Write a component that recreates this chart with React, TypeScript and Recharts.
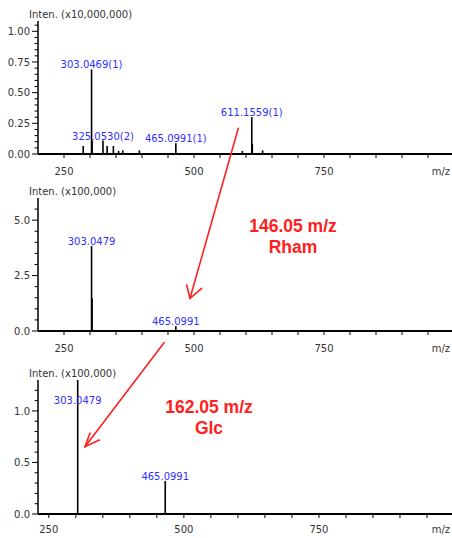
import React from "react"
import { ComposedChart, Bar, XAxis, YAxis, LabelList } from "recharts"

// MS spectrum (x10,000,000)
const ms1Mz = [287.0, 303.0469, 304.05, 325.053, 333.0, 345.0, 355.0, 363.0, 395.0, 465.0991, 593.0, 611.1559, 612.16, 632.0]
const ms1Inten = [0.065, 0.69, 0.11, 0.11, 0.065, 0.065, 0.025, 0.03, 0.03, 0.088, 0.025, 0.3, 0.08, 0.03]
const ms1Labels = ["", "303.0469(1)", "", "325.0530(2)", "", "", "", "", "", "465.0991(1)", "", "611.1559(1)", "", ""]

// MS2 of 611 (x100,000)
const ms2Mz = [303.0479, 304.05, 465.0991]
const ms2Inten = [3.83, 1.47, 0.22]
const ms2Labels = ["303.0479", "", "465.0991"]

// MS3 of 465 (x100,000)
const ms3Mz = [303.0479, 465.0991]
const ms3Inten = [1.3, 0.32]
const ms3Labels = ["303.0479", "465.0991"]

const xTicks = [250, 300, 350, 400, 450, 500, 550, 600, 650, 700, 750, 800, 850, 900, 950]
const xTickLabels = [250, 500, 750]

const y1Ticks = [0, 0.05, 0.1, 0.15, 0.2, 0.25, 0.3, 0.35, 0.4, 0.45, 0.5, 0.55, 0.6, 0.65, 0.7, 0.75, 0.8, 0.85, 0.9, 0.95, 1.0, 1.05]
const y1Major = [0, 0.25, 0.5, 0.75, 1.0]
const y2Ticks = [0, 0.5, 1.0, 1.5, 2.0, 2.5, 3.0, 3.5, 4.0, 4.5, 5.0, 5.5]
const y2Major = [0, 2.5, 5.0]
const y3Ticks = [0, 0.1, 0.2, 0.3, 0.4, 0.5, 0.6, 0.7, 0.8, 0.9, 1.0, 1.1, 1.2]
const y3Major = [0, 0.5, 1.0]

const BLUE = "#2f2fff"
const RED = "#ff2020"
const FONT = "DejaVu Sans, sans-serif"

const toRows = (mz: number[], inten: number[], labels: string[]) =>
  mz.map((m, i) => ({ mz: m, inten: inten[i], label: labels[i] }))

const isIn = (list: number[], v: number) => list.some((t) => Math.abs(t - v) < 1e-9)

// stick peak: fixed width line centred on the m/z value
const Stick = (p: any) => (
  <rect x={p.x + p.width / 2 - 0.8} y={p.y} width={1.6} height={Math.max(p.height, 0)} fill="#000" />
)

function makeYTick(major: number[], digits: number) {
  return (props: any) => {
    const { x, y, payload } = props
    const big = isIn(major, payload.value)
    return (
      <g>
        <line x1={x - (big ? 6 : 3.5)} x2={x} y1={y} y2={y} stroke="#000" strokeWidth={1} />
        {big && (
          <text x={x - 8} y={y} dy={3.6} textAnchor="end" fontSize={10} fontFamily={FONT} fill="#333">
            {payload.value.toFixed(digits)}
          </text>
        )}
      </g>
    )
  }
}

function makeXTick(labelDy: number) {
  return (props: any) => {
    const { x, y, payload } = props
    return (
      <g>
        <line x1={x} x2={x} y1={y} y2={y + 4} stroke="#000" strokeWidth={1} />
        {isIn(xTickLabels, payload.value) && (
          <text x={x} y={y + labelDy} textAnchor="middle" fontSize={10} fontFamily={FONT} fill="#333">
            {payload.value}
          </text>
        )}
      </g>
    )
  }
}

function makePeakLabel(minY: number) {
  return (props: any) => {
    const { x, y, width, value } = props
    if (!value) return null
    return (
      <text x={x + width / 2} y={Math.max(y - 1, minY)} textAnchor="middle" fontSize={10} fontFamily={FONT} fill={BLUE}>
        {value}
      </text>
    )
  }
}

interface PanelProps {
  rows: { mz: number; inten: number; label: string }[]
  xDomain: [number, number]
  yDomain: [number, number]
  yTicks: number[]
  yMajor: number[]
  digits: number
  title: string
  top: number
  height: number
  marginTop: number
  labelMinY: number
  labelDy: number
}

function Panel({ rows, xDomain, yDomain, yTicks, yMajor, digits, title, top, height, marginTop, labelMinY, labelDy }: PanelProps) {
  return (
    <div style={{ position: "absolute", left: 0, top }}>
      <ComposedChart width={454} height={height} data={rows} margin={{ top: marginTop, right: 0, bottom: 0, left: 0 }}>
        <XAxis
          dataKey="mz"
          type="number"
          domain={xDomain}
          allowDataOverflow
          ticks={xTicks}
          interval={0}
          tickSize={0}
          tickMargin={0}
          tickLine={false}
          tick={makeXTick(labelDy)}
          height={26}
          axisLine={{ stroke: "#000", strokeWidth: 2 }}
          label={{
            content: (p: any) => (
              <text x={p.viewBox.x + p.viewBox.width - 4} y={p.viewBox.y + labelDy} textAnchor="end" fontSize={10} fontFamily={FONT} fill="#333">
                m/z
              </text>
            ),
          }}
        />
        <XAxis
          xAxisId="top"
          orientation="top"
          dataKey="mz"
          type="number"
          domain={xDomain}
          allowDataOverflow
          height={0}
          tick={false}
          tickLine={false}
          axisLine={{ stroke: "#000", strokeWidth: 1.2 }}
        />
        <YAxis
          type="number"
          domain={yDomain}
          allowDataOverflow
          ticks={yTicks}
          interval={0}
          width={38}
          tickSize={0}
          tickMargin={0}
          tickLine={false}
          tick={makeYTick(yMajor, digits)}
          axisLine={{ stroke: "#000", strokeWidth: 1.5 }}
          label={{
            content: (p: any) => (
              <text x={p.viewBox.x + p.viewBox.width - 9} y={p.viewBox.y - 3} fontSize={10} fontFamily={FONT} fill="#333">
                {title}
              </text>
            ),
          }}
        />
        <Bar dataKey="inten" fill="#000" barSize={2} shape={Stick} isAnimationActive={false}>
          <LabelList dataKey="label" content={makePeakLabel(labelMinY)} />
        </Bar>
      </ComposedChart>
    </div>
  )
}

export default function App() {
  return (
    <div style={{ position: "absolute", left: 0, top: 0, width: 452, height: 538, overflow: "hidden", background: "#fff" }}>
      <Panel
        rows={toRows(ms1Mz, ms1Inten, ms1Labels)}
        xDomain={[200, 1000]}
        yDomain={[0, 1.084]}
        yTicks={y1Ticks}
        yMajor={y1Major}
        digits={2}
        title="Inten. (x10,000,000)"
        top={0}
        height={180}
        marginTop={21}
        labelMinY={0}
        labelDy={21}
      />
      <Panel
        rows={toRows(ms2Mz, ms2Inten, ms2Labels)}
        xDomain={[200, 1000]}
        yDomain={[0, 6.0]}
        yTicks={y2Ticks}
        yMajor={y2Major}
        digits={1}
        title="Inten. (x100,000)"
        top={180}
        height={177}
        marginTop={18}
        labelMinY={0}
        labelDy={21}
      />
      <Panel
        rows={toRows(ms3Mz, ms3Inten, ms3Labels)}
        xDomain={[230, 1000]}
        yDomain={[0, 1.3]}
        yTicks={y3Ticks}
        yMajor={y3Major}
        digits={1}
        title="Inten. (x100,000)"
        top={361}
        height={179}
        marginTop={19}
        labelMinY={19 + 24}
        labelDy={19}
      />
      {/* neutral loss annotations */}
      <svg width={452} height={538} style={{ position: "absolute", left: 0, top: 0, pointerEvents: "none" }}>
        <g stroke={RED} strokeWidth={1.6} fill="none" strokeLinecap="round">
          <line x1={238.3} y1={128.3} x2={190} y2={298.3} />
          <polyline points="186.7,285 190,298.3 201.7,288.3" />
          <line x1={164} y1={342.7} x2={85} y2={446.7} />
          <polyline points="90,433 85,446.7 99.3,440" />
        </g>
        <g fill={RED} fontFamily="Liberation Sans, sans-serif" fontWeight="bold" fontSize={17.5} textAnchor="middle">
          <text x={293} y={232}>146.05 m/z</text>
          <text x={293} y={252.5}>Rham</text>
          <text x={209} y={413}>162.05 m/z</text>
          <text x={209} y={434}>Glc</text>
        </g>
      </svg>
    </div>
  )
}
